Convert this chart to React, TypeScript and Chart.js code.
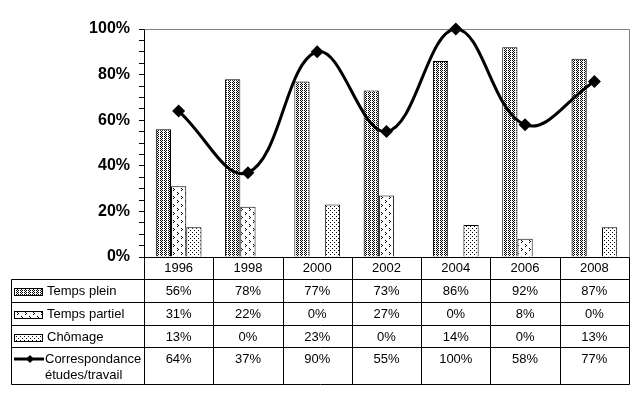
import React, { useEffect, useRef } from 'react';
import { Chart, registerables } from 'chart.js';

Chart.register(...registerables);

const categories = ['1996', '1998', '2000', '2002', '2004', '2006', '2008'];
const tempsPlein = [56, 78, 77, 73, 86, 92, 87];
const tempsPartiel = [31, 22, 0, 27, 0, 8, 0];
const chomage = [13, 0, 23, 0, 14, 0, 13];
const correspondance = [64, 37, 90, 55, 100, 58, 77];
const barLabels = ['Temps plein', 'Temps partiel', 'Chômage'];
const lineLabelLines = ['Correspondance', 'études/travail'];
const yMajorStep = 20;
const yMinorStep = 5;

const FONT = '"Liberation Sans", Arial, sans-serif';

function makePattern(w: number, h: number, pixels: number[][]) {
  const c = document.createElement('canvas');
  c.width = w;
  c.height = h;
  const g = c.getContext('2d')!;
  g.fillStyle = '#ffffff';
  g.fillRect(0, 0, w, h);
  g.fillStyle = '#000000';
  pixels.forEach(([px, py]) => g.fillRect(px, py, 1, 1));
  return g.createPattern(c, 'repeat')!;
}

export default function App() {
  const ref = useRef<HTMLCanvasElement | null>(null);

  useEffect(() => {
    const canvas = ref.current!;
    const patPlein = makePattern(4, 2, [[0, 0], [2, 0], [1, 1]]);
    const patPartiel = makePattern(8, 8, [
      [1, 0], [2, 1], [1, 2],
      [5, 4], [6, 5], [5, 6],
    ]);
    const patChomage = makePattern(4, 4, [[0, 0], [2, 2]]);
    const patterns = [patPlein, patPartiel, patChomage];
    const barSeries = [tempsPlein, tempsPartiel, chomage];

    // row edges relative to chart-area bottom
    const rowEdges = [0, 22, 45, 68, 90, 127];

    const framePlugin = {
      id: 'frame',
      beforeDatasetsDraw(chart: any) {
        const { ctx, chartArea: ca } = chart;
        ctx.save();
        ctx.strokeStyle = '#808080';
        ctx.lineWidth = 1;
        ctx.beginPath();
        ctx.moveTo(Math.round(ca.left) + 0.5, Math.round(ca.top) + 0.5);
        ctx.lineTo(Math.round(ca.right) + 0.5, Math.round(ca.top) + 0.5);
        ctx.lineTo(Math.round(ca.right) + 0.5, Math.round(ca.bottom) + 0.5);
        ctx.stroke();
        ctx.restore();
      },
      afterDraw(chart: any) {
        const { ctx, chartArea: ca, scales } = chart;
        const xs = scales.x;
        const half = (xs.getPixelForValue(1) - xs.getPixelForValue(0)) / 2;
        const top = Math.round(ca.bottom);
        const tableLeft = 11;
        const right = Math.round(ca.right);
        ctx.save();
        ctx.strokeStyle = '#000000';
        ctx.lineWidth = 1;
        ctx.beginPath();
        ctx.moveTo(Math.round(ca.left) + 0.5, top + 0.5);
        ctx.lineTo(right + 0.5, top + 0.5);
        for (let r = 1; r < rowEdges.length; r++) {
          const y = top + rowEdges[r] + 0.5;
          ctx.moveTo(tableLeft + 0.5, y);
          ctx.lineTo(right + 0.5, y);
        }
        ctx.moveTo(tableLeft + 0.5, top + rowEdges[1] + 0.5);
        ctx.lineTo(tableLeft + 0.5, top + rowEdges[rowEdges.length - 1] + 0.5);
        for (let i = 0; i <= categories.length; i++) {
          const x = Math.round(xs.getPixelForValue(0) - half + i * 2 * half) + 0.5;
          ctx.moveTo(x, top + 0.5);
          ctx.lineTo(x, top + rowEdges[rowEdges.length - 1] + 0.5);
        }
        ctx.stroke();

        ctx.font = `13px ${FONT}`;
        ctx.fillStyle = '#000000';
        ctx.textBaseline = 'middle';

        const rowCenter = (r: number) => top + (rowEdges[r] + rowEdges[r + 1]) / 2 + 1;

        for (let s = 0; s < 3; s++) {
          const cy = rowCenter(s + 1);
          const ky = Math.round(cy - 3.5);
          ctx.fillStyle = patterns[s];
          ctx.fillRect(14, ky, 28, 7);
          ctx.strokeStyle = '#000';
          ctx.strokeRect(14.5, ky + 0.5, 28, 7);
          ctx.fillStyle = '#000';
          ctx.textAlign = 'left';
          ctx.fillText(barLabels[s], 47, cy);
          ctx.textAlign = 'center';
          barSeries[s].forEach((v, i) => {
            ctx.fillText(v + '%', xs.getPixelForValue(i), cy);
          });
        }
        const ly = top + rowEdges[4] + 12;
        ctx.lineWidth = 3;
        ctx.beginPath();
        ctx.moveTo(14, ly);
        ctx.lineTo(44, ly);
        ctx.stroke();
        ctx.beginPath();
        ctx.moveTo(30, ly - 4);
        ctx.lineTo(34, ly);
        ctx.lineTo(30, ly + 4);
        ctx.lineTo(26, ly);
        ctx.closePath();
        ctx.fill();
        ctx.textAlign = 'left';
        ctx.fillText(lineLabelLines[0], 45, ly);
        ctx.fillText(lineLabelLines[1], 45, ly + 16);
        ctx.textAlign = 'center';
        correspondance.forEach((v, i) => {
          ctx.fillText(v + '%', xs.getPixelForValue(i), ly);
        });
        ctx.restore();
      },
    };

    const chart = new Chart(canvas, {
      type: 'bar',
      data: {
        labels: categories,
        datasets: [
          {
            type: 'line',
            label: 'Correspondance études/travail',
            data: correspondance,
            borderColor: '#000',
            backgroundColor: '#000',
            borderWidth: 3,
            tension: 0.4,
            pointStyle: 'rectRot',
            pointRadius: 6.5,
            pointBorderWidth: 0,
            pointBackgroundColor: '#000',
            order: 0,
            clip: 12,
          } as any,
          ...barLabels.map((lab, s) => ({
            type: 'bar',
            label: lab,
            data: barSeries[s],
            backgroundColor: patterns[s],
            borderColor: '#000',
            borderWidth: 1,
            categoryPercentage: 0.66,
            barPercentage: 1.0,
            order: 1,
          })),
        ] as any,
      },
      options: {
        responsive: false,
        animation: false,
        layout: { padding: { top: 29, right: 10, bottom: 0, left: 0 } },
        plugins: {
          legend: { display: false },
          tooltip: { enabled: false },
        },
        scales: {
          x: {
            offset: true,
            grid: { display: false },
            border: { display: false },
            ticks: { color: '#000', font: { family: FONT, size: 13 }, padding: -4 },
            afterFit: (s: any) => { s.height = 142; },
          },
          y: {
            min: 0,
            max: 100,
            ticks: {
              stepSize: yMinorStep,
              autoSkip: false,
              padding: 9,
              color: '#000',
              font: { family: FONT, size: 16, weight: 'bold' },
              callback: (v: any) => (Number(v) % yMajorStep === 0 ? v + '%' : ''),
            },
            grid: { drawOnChartArea: false, drawTicks: true, tickLength: 5, color: '#000' },
            border: { display: true, color: '#000', width: 1 },
            afterFit: (s: any) => { s.width = 144; },
          },
        },
      } as any,
      plugins: [framePlugin],
    });
    return () => chart.destroy();
  }, []);

  return (
    <div style={{ position: 'absolute', left: 0, top: 0, width: 639, height: 399, background: '#fff' }}>
      <canvas ref={ref} width={639} height={399} style={{ width: 639, height: 399, display: 'block' }} />
    </div>
  );
}
